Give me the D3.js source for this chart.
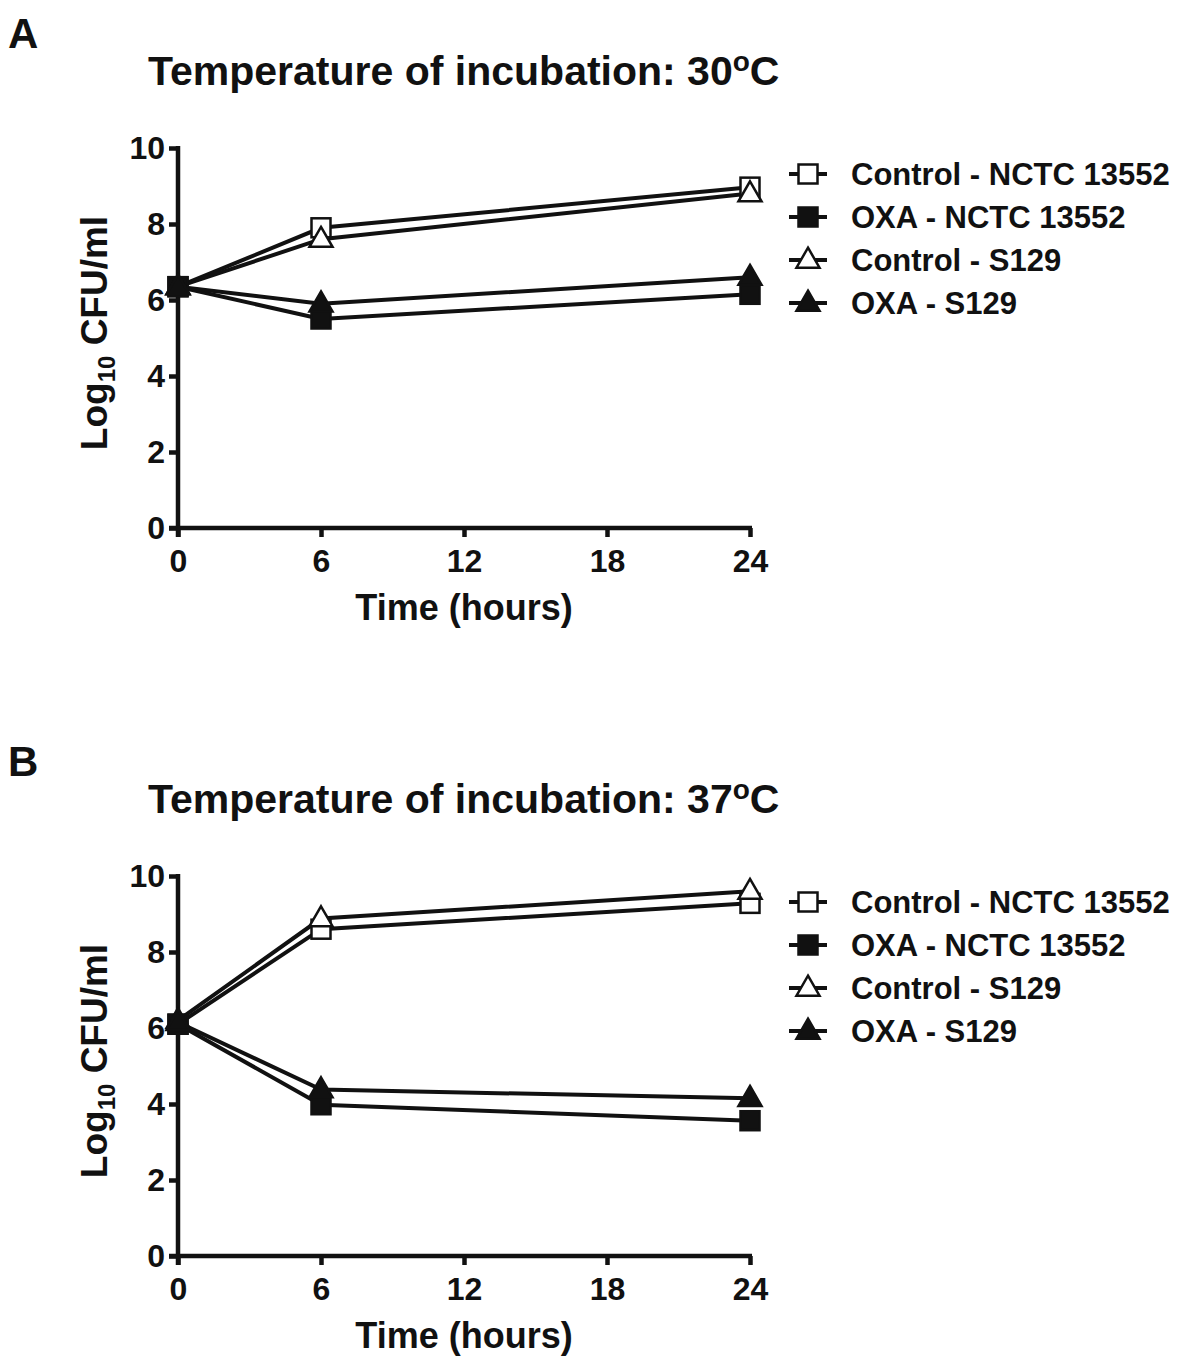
<!DOCTYPE html>
<html>
<head>
<script src="https://d3js.org/d3.v7.min.js"></script>
<style>
  body { margin: 0; background: #fff; }
  text { font-family: "Liberation Sans", Arial, sans-serif; font-weight: bold; fill: #111; }
  .axis text { font-size: 32px; }
</style>
</head>
<body>
<svg id="chart" width="1180" height="1356"></svg>
<script>
// time points (hours)
var times = [0, 6, 24];
var xTicks = [0, 6, 12, 18, 24];
var yTicks = [0, 2, 4, 6, 8, 10];
var seriesNames = ["Control - NCTC 13552", "OXA - NCTC 13552", "Control - S129", "OXA - S129"];
var seriesShapes = ["square", "square", "triangle", "triangle"];
var seriesFilled = [false, true, false, true];

// Panel A: 30 C
var a_ctrlNCTC = [6.35, 7.9, 8.97];
var a_oxaNCTC = [6.35, 5.5, 6.15];
var a_ctrlS129 = [6.35, 7.6, 8.8];
var a_oxaS129 = [6.35, 5.9, 6.6];

// Panel B: 37 C
var b_ctrlNCTC = [6.1, 8.6, 9.28];
var b_oxaNCTC = [6.1, 3.98, 3.56];
var b_ctrlS129 = [6.2, 8.88, 9.6];
var b_oxaS129 = [6.15, 4.38, 4.15];

var panels = [
  { letter: "A", temp: "30", top: 0, series: [a_ctrlNCTC, a_oxaNCTC, a_ctrlS129, a_oxaS129] },
  { letter: "B", temp: "37", top: 728, series: [b_ctrlNCTC, b_oxaNCTC, b_ctrlS129, b_oxaS129] }
];

var svg = d3.select("#chart");

var x = d3.scaleLinear().domain([0, 24]).range([178, 750]);
var y = d3.scaleLinear().domain([0, 10]).range([528, 148]);

function marker(g, shape, filled, cx, cy) {
  if (shape === "square") {
    g.append("rect")
      .attr("x", cx - 9.5).attr("y", cy - 9.5)
      .attr("width", 19).attr("height", 19)
      .attr("fill", filled ? "#111" : "#fff")
      .attr("stroke", "#111").attr("stroke-width", 2.5);
  } else {
    var s = d3.symbol().type(d3.symbolTriangle).size(230);
    g.append("path")
      .attr("d", s())
      .attr("transform", "translate(" + cx + "," + (cy + 1) + ")")
      .attr("fill", filled ? "#111" : "#fff")
      .attr("stroke", "#111").attr("stroke-width", 2.5);
  }
}

function styleAxis(a) {
  a.selectAll("path, line").attr("stroke", "#111").attr("stroke-width", 4.5);
}

panels.forEach(function (p) {
  var g = svg.append("g").attr("transform", "translate(0," + p.top + ")");

  g.append("text").attr("x", 8).attr("y", 48)
    .style("font-size", "42px").text(p.letter);

  var title = g.append("text").attr("x", 148).attr("y", 85)
    .style("font-size", "41px");
  title.append("tspan").text("Temperature of incubation: " + p.temp);
  title.append("tspan").attr("dy", -14).style("font-size", "28px").text("o");
  title.append("tspan").attr("dy", 14).text("C");

  var yAxis = d3.axisLeft(y).tickValues(yTicks).tickSize(9).tickSizeOuter(0).tickPadding(4);
  g.append("g").attr("class", "axis")
    .attr("transform", "translate(" + x(0) + ",0)")
    .call(yAxis)
    .call(function (a) { a.select(".domain").attr("d", "M0," + (y(10) - 2) + "V" + (y(0) + 9)); })
    .call(styleAxis);

  var xAxis = d3.axisBottom(x).tickValues(xTicks).tickSize(9).tickSizeOuter(0).tickPadding(12);
  g.append("g").attr("class", "axis")
    .attr("transform", "translate(0," + y(0) + ")")
    .call(xAxis)
    .call(function (a) { a.select(".domain").attr("d", "M" + (x(0) - 9) + ",0H" + (x(24) + 2)); })
    .call(styleAxis);

  g.append("text")
    .attr("transform", "translate(107," + ((y(0) + y(10)) / 2 - 5) + ") rotate(-90)")
    .attr("text-anchor", "middle")
    .style("font-size", "37px")
    .call(function (t) {
      t.append("tspan").text("Log");
      t.append("tspan").attr("dy", 8).style("font-size", "24px").text("10");
      t.append("tspan").attr("dy", -8).text(" CFU/ml");
    });

  g.append("text").attr("x", x(12)).attr("y", 620)
    .attr("text-anchor", "middle").style("font-size", "36px").text("Time (hours)");

  var line = d3.line()
    .x(function (d, i) { return x(times[i]); })
    .y(function (d) { return y(d); });

  p.series.forEach(function (vals) {
    g.append("path").datum(vals)
      .attr("d", line)
      .attr("fill", "none").attr("stroke", "#111").attr("stroke-width", 4);
  });
  p.series.forEach(function (vals, si) {
    vals.forEach(function (v, i) {
      marker(g, seriesShapes[si], seriesFilled[si], x(times[i]), y(v));
    });
  });

  // legend
  seriesNames.forEach(function (name, i) {
    var ly = 174 + i * 43;
    g.append("line").attr("x1", 789).attr("x2", 827).attr("y1", ly).attr("y2", ly)
      .attr("stroke", "#111").attr("stroke-width", 4);
    marker(g, seriesShapes[i], seriesFilled[i], 808, ly);
    g.append("text").attr("x", 851).attr("y", ly + 11)
      .style("font-size", "31px").text(name);
  });
});
</script>
</body>
</html>
